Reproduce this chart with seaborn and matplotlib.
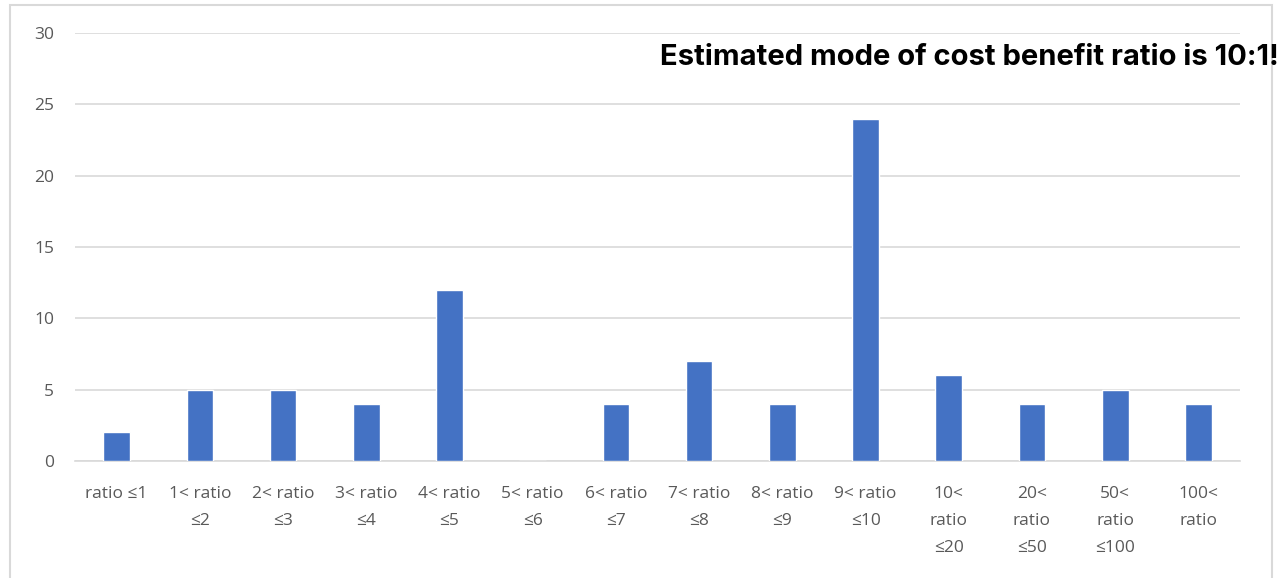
import matplotlib
matplotlib.use("Agg")
import matplotlib.pyplot as plt
import seaborn as sns
import pandas as pd
from matplotlib.patches import Rectangle

# Cost-benefit ratio buckets (labels wrapped as in a narrow column)
categories = [
    "ratio ≤1",
    "1< ratio\n≤2",
    "2< ratio\n≤3",
    "3< ratio\n≤4",
    "4< ratio\n≤5",
    "5< ratio\n≤6",
    "6< ratio\n≤7",
    "7< ratio\n≤8",
    "8< ratio\n≤9",
    "9< ratio\n≤10",
    "10<\nratio\n≤20",
    "20<\nratio\n≤50",
    "50<\nratio\n≤100",
    "100<\nratio",
]
counts = [2, 5, 5, 4, 12, 0, 4, 7, 4, 24, 6, 4, 5, 4]
y_ticks = [0, 5, 10, 15, 20, 25, 30]
headline = "Estimated mode of cost benefit ratio is 10:1!"

df = pd.DataFrame({"bucket": categories, "count": counts})

sns.set_style("white")
plt.rcParams["font.family"] = ["Open Sans", "DejaVu Sans"]

fig = plt.figure(figsize=(12.87, 5.78), dpi=100)
ax = fig.add_axes([0.0583, 0.2024, 0.9052, 0.7406])

sns.barplot(data=df, x="bucket", y="count", color="#4472C4", width=0.32,
            saturation=1, ax=ax, zorder=3)

ax.set_ylim(0, 30)
ax.set_xlim(-0.5, len(categories) - 0.5)
ax.set_yticks(y_ticks)
ax.yaxis.grid(True, color="#d9d9d9", linewidth=1.2, zorder=0)
ax.set_axisbelow(True)
for side in ("left", "right", "top"):
    ax.spines[side].set_visible(False)
ax.spines["bottom"].set_color("#d9d9d9")
ax.spines["bottom"].set_linewidth(1.2)
ax.set_xlabel("")
ax.set_ylabel("")
ax.tick_params(axis="y", length=0, pad=15, labelsize=12.5, labelcolor="#595959")
ax.tick_params(axis="x", length=0, pad=18, labelsize=12.5, labelcolor="#595959")
for lbl in ax.get_xticklabels():
    lbl.set_linespacing(1.9)

# Chart frame
fig.patches.append(Rectangle((0.0078, -0.01), 0.9805, 1.0013, transform=fig.transFigure,
                             fill=False, edgecolor="#d9d9d9", linewidth=1.5))

fig.text(0.5128, 0.900, headline, ha="left", va="center",
         fontsize=21, fontweight="bold", color="black", family=["Inter", "DejaVu Sans"])

fig.savefig("out.png", dpi=100)
